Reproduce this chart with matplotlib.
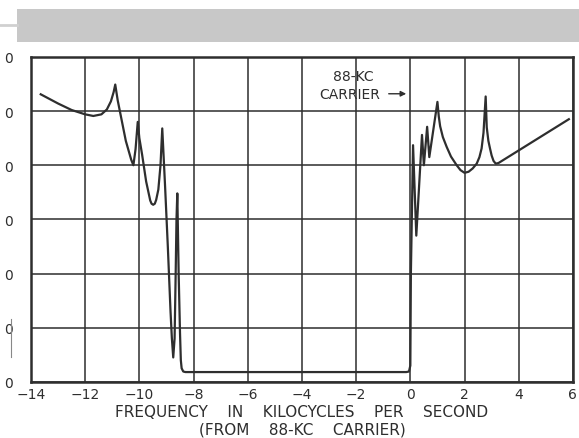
import matplotlib
matplotlib.use("Agg")
import matplotlib.pyplot as plt
from matplotlib.patches import Rectangle

# frequency (kc from carrier) and response
freq_low = [-13.64, -13.0, -12.5, -12.0, -11.7, -11.4, -11.2, -11.05, -10.95, -10.89,
            -10.8, -10.7, -10.5, -10.3, -10.22, -10.14, -10.06, -10.0, -9.9, -9.75,
            -9.6, -9.55, -9.49, -9.43, -9.38, -9.3, -9.22, -9.155, -9.05, -8.95,
            -8.85, -8.8, -8.75, -8.7, -8.66, -8.63, -8.6, -8.55, -8.5, -8.47,
            -8.44, -8.38, -8.3]
resp_low = [53.1, 51.4, 50.2, 49.4, 49.1, 49.4, 50.3, 51.8, 53.5, 54.9,
            52.0, 49.5, 44.5, 41.0, 40.0, 43.0, 48.0, 45.0, 42.0, 37.0,
            33.5, 32.9, 32.7, 32.9, 33.6, 35.5, 40.0, 46.8, 36.0, 25.0,
            13.0, 8.0, 4.5, 8.0, 20.0, 30.0, 34.8, 20.0, 9.0, 4.0,
            2.5, 1.9, 1.8]

freq_mid = [-0.15, -0.05, 0.0, 0.02, 0.1, 0.22, 0.43, 0.5, 0.62, 0.7, 1.0,
            1.05, 1.1, 1.2, 1.34, 1.5, 1.71, 1.85, 2.0, 2.15, 2.3, 2.45,
            2.55, 2.63, 2.7, 2.78, 2.82, 2.88, 2.94, 3.0, 3.07, 3.15,
            3.25, 5.85]
resp_mid = [1.8, 1.9, 3.0, 20.0, 43.7, 27.0, 45.6, 40.0, 47.1, 41.5, 51.7,
            49.0, 47.2, 45.2, 43.4, 41.6, 40.0, 39.1, 38.6, 38.8, 39.4, 40.3,
            41.5, 43.1, 46.0, 52.7, 47.0, 44.5, 43.1, 41.8, 40.8, 40.3,
            40.4, 48.5]

x_ticks = [-14, -12, -10, -8, -6, -4, -2, 0, 2, 4, 6]
x_labels = ["\u221214", "\u221212", "\u221210", "\u22128", "\u22126", "\u22124", "\u22122", "0", "2", "4", "6"]
y_ticks = [0, 10, 20, 30, 40, 50, 60]
y_labels = ["0", "0", "0", "0", "0", "0", "0"]

ink = "#2e2e2e"

fig = plt.figure(figsize=(5.79, 4.39), dpi=100)
ax = fig.add_axes([0.0535, 0.128, 0.936, 0.740])

ax.plot(freq_low + freq_mid, resp_low + resp_mid, color=ink, linewidth=1.6)

ax.set_xlim(-14, 6)
ax.set_ylim(0, 60)
ax.set_xticks(x_ticks)
ax.set_xticklabels(x_labels, fontsize=10, color=ink)
ax.set_yticks(y_ticks)
ax.set_yticklabels(y_labels, fontsize=10, color=ink)
ax.tick_params(length=0, pad=4)
ax.tick_params(axis="y", pad=13)
ax.grid(True, color=ink, linewidth=1.1)
for s in ax.spines.values():
    s.set_color(ink)
    s.set_linewidth(1.8)

ax.set_xlabel("FREQUENCY    IN    KILOCYCLES    PER    SECOND\n(FROM    88-KC    CARRIER)",
              fontsize=11, color=ink, labelpad=2, linespacing=1.2)

ax.annotate("", xy=(-0.05, 53.2), xytext=(-0.9, 53.2),
            arrowprops=dict(arrowstyle="-|>", color=ink, lw=1, mutation_scale=8))
ax.text(-2.1, 56.5, "88-KC", fontsize=10, color=ink, ha="center", va="center")
ax.text(-1.1, 53.2, "CARRIER", fontsize=10, color=ink, ha="right", va="center")

# halftone strip at the top of the scan
fig.patches.append(Rectangle((17 / 579, 1 - 43 / 439), 562 / 579, 33 / 439,
                             transform=fig.transFigure, facecolor="#c8c8c8",
                             edgecolor="none"))
fig.lines.append(plt.Line2D([0, 17 / 579], [1 - 26 / 439] * 2, transform=fig.transFigure,
                            color="#d0d0d0", linewidth=2))
fig.lines.append(plt.Line2D([11 / 579] * 2, [1 - 320 / 439, 1 - 358 / 439],
                            transform=fig.transFigure, color="#888888", linewidth=0.8))

fig.savefig("out.png", dpi=100)
